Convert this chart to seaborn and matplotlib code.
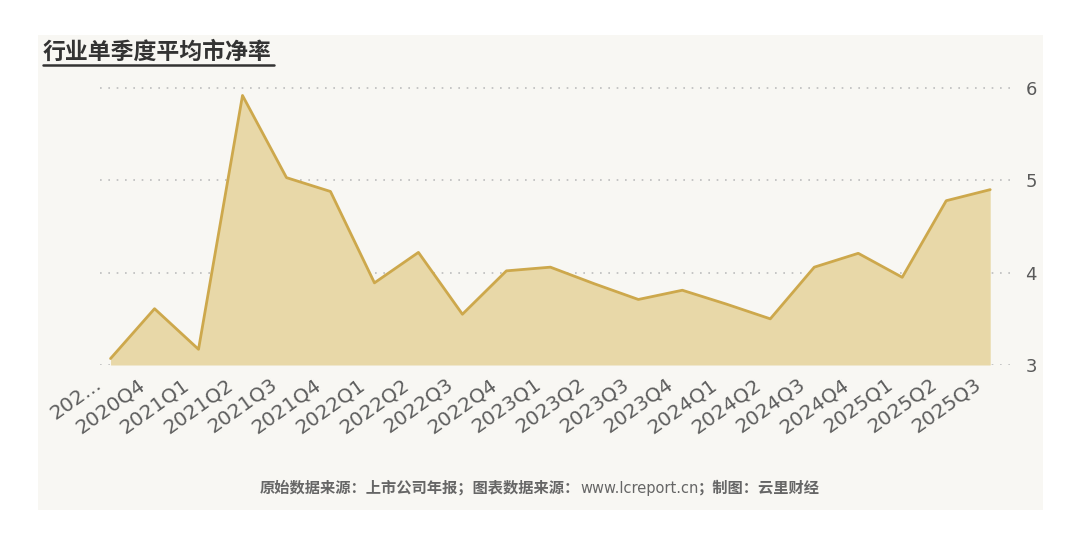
import numpy as np
import pandas as pd
import matplotlib.pyplot as plt
import matplotlib.transforms as mtransforms
import seaborn as sns
from matplotlib.patches import Rectangle
from matplotlib.lines import Line2D

# Chart data
quarters = ["202...", "2020Q4", "2021Q1", "2021Q2", "2021Q3", "2021Q4", "2022Q1",
            "2022Q2", "2022Q3", "2022Q4", "2023Q1", "2023Q2", "2023Q3", "2023Q4",
            "2024Q1", "2024Q2", "2024Q3", "2024Q4", "2025Q1", "2025Q2", "2025Q3"]
pb_ratio = [3.07, 3.61, 3.17, 5.92, 5.03, 4.88, 3.89, 4.22, 3.55, 4.02, 4.06,
            3.88, 3.71, 3.81, 3.66, 3.50, 4.06, 4.21, 3.95, 4.78, 4.90]
y_ticks = [3, 4, 5, 6]

title = "行业单季度平均市净率"
footer_parts = ["原始数据来源：上市公司年报；图表数据来源：", "www.lcreport.cn", "；制图：云里财经"]

LINE = "#cda84c"
FILL = "#e8d8a8"
PANEL = "#f8f7f3"
TEXT = "#5a5a5a"
CJK = ['Noto Sans CJK SC', 'DejaVu Sans']


def plot_chart():
    sns.set_theme(style="white")
    plt.rcParams['font.family'] = ['DejaVu Sans', 'Noto Sans CJK SC']

    data = pd.DataFrame({"idx": np.arange(len(quarters)), "quarter": quarters, "pb": pb_ratio})

    fig = plt.figure(figsize=(10.8, 5.45), dpi=100, facecolor="white")
    # light panel behind everything
    fig.patches.append(Rectangle((38 / 1080, 1 - 510 / 545), (1043 - 38) / 1080, (510 - 35) / 545,
                                 transform=fig.transFigure, facecolor=PANEL, edgecolor="none", zorder=-5))

    ax = fig.add_axes([100 / 1080, 1 - 365 / 545, 910 / 1080, 0.525])
    ax.set_facecolor("none")
    ax.set_zorder(2)

    ax.fill_between(data["idx"], 3, data["pb"], color=FILL, linewidth=0, zorder=2)
    sns.lineplot(data=data, x="idx", y="pb", ax=ax, color=LINE, linewidth=2, zorder=3)

    ax.set_xlim(-0.24, 20.45)
    ax.set_ylim(3, 6.1)
    ax.set_yticks(y_ticks)
    ax.yaxis.tick_right()
    ax.tick_params(axis="y", length=0, pad=11, labelsize=13, labelcolor=TEXT)
    ax.set_xticks(data["idx"])
    ax.set_xticklabels(quarters, rotation=35.5, ha="right", rotation_mode="anchor")
    ax.tick_params(axis="x", length=0, pad=7, labelsize=14.5, labelcolor="#5e5e5e")
    shift = mtransforms.ScaledTranslation(-17 / 100, 0, fig.dpi_scale_trans)
    for lbl in ax.get_xticklabels():
        lbl.set_transform(lbl.get_transform() + shift)
    ax.set_xlabel("")
    ax.set_ylabel("")
    ax.grid(axis="y", linestyle=(0, (1, 4)), color="#bdbdbd", linewidth=1.2, zorder=1)
    ax.grid(axis="x", visible=False)
    ax.set_axisbelow(True)
    for s in ax.spines.values():
        s.set_visible(False)

    # title with underline
    fig.text(43 / 1080, 1 - 52 / 545, title, fontsize=16.5, color="#333333", fontweight="bold",
             family=CJK, va="center", ha="left")
    fig.add_artist(Line2D([43 / 1080, 274 / 1080], [1 - 65 / 545, 1 - 65 / 545],
                          color="#333333", linewidth=1.8, transform=fig.transFigure))

    # footer: bold chinese, plain url
    styles = [dict(family=CJK, fontweight="bold", fontsize=11),
              dict(family=['DejaVu Sans'], fontweight="normal", fontsize=10.5),
              dict(family=CJK, fontweight="bold", fontsize=11)]
    y_foot = 1 - 493 / 545
    texts = [fig.text(0, y_foot, s, color="#666666", va="baseline", ha="left", **st)
             for s, st in zip(footer_parts, styles)]
    fig.canvas.draw()
    r = fig.canvas.get_renderer()
    widths = [t.get_window_extent(r).width for t in texts]
    x = (540 - sum(widths) / 2) / 1080
    for t, w in zip(texts, widths):
        t.set_x(x)
        x += w / 1080

    fig.savefig("out.png", dpi=100, facecolor="white")


if __name__ == "__main__":
    plot_chart()
